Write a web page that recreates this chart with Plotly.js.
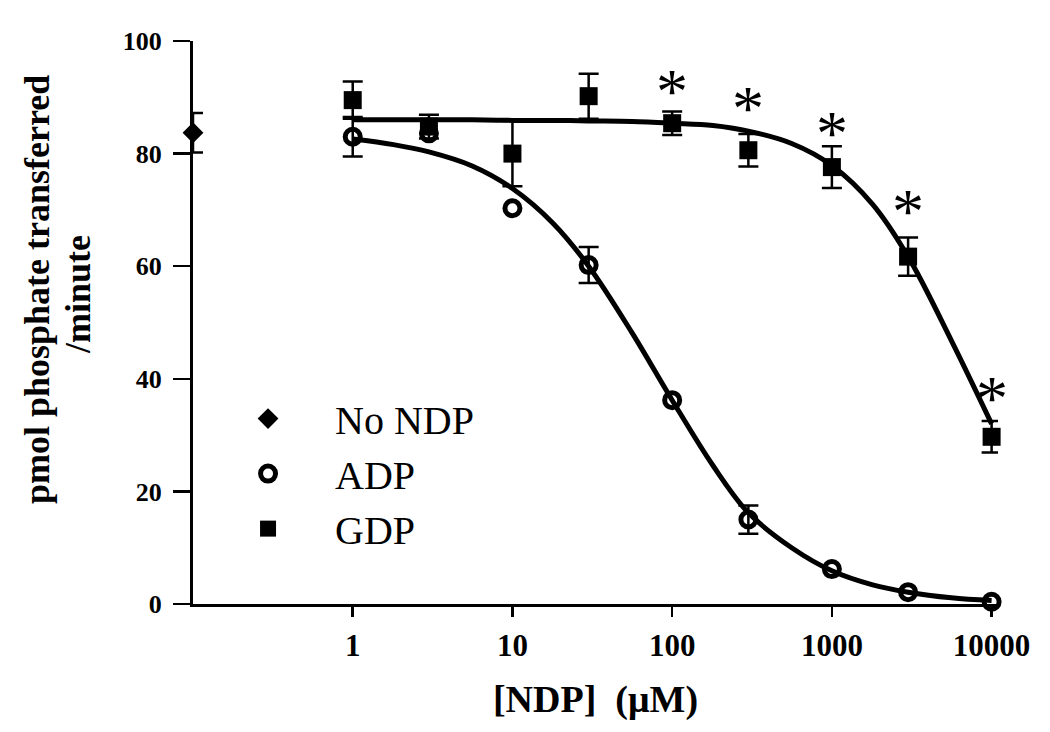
<!DOCTYPE html>
<html>
<head>
<meta charset="utf-8">
<script src="https://cdn.plot.ly/plotly-3.0.1.min.js"></script>
<style>html,body{margin:0;padding:0;background:#fff;}#chart{width:1050px;height:732px;}</style>
</head>
<body>
<div id="chart"></div>
<script>
// ---- data ----
var concentrations = [1, 3, 10, 30, 100, 300, 1000, 3000, 10000];   // [NDP] (µM)

var noNdpX = [0.1];
var noNdpY = [83.7];
var noNdpErr = [3.5];

var adpY   = [83.0, 83.6, 70.3, 60.2, 36.2, 15.0, 6.2, 2.1, 0.4];
var adpErr = [3.5, NaN, NaN, 3.2, NaN, 2.5, NaN, NaN, NaN];

var gdpY   = [89.5, 84.8, 80.0, 90.2, 85.4, 80.6, 77.6, 61.7, 29.7];
var gdpErr = [3.3, 2.1, 5.8, 4.0, 2.1, 2.9, 3.7, 3.4, 2.8];

// fitted curves as drawn in the figure (read at quarter-decade steps)
var curveX    = [1, 1.8, 3, 5.6, 10, 18, 30, 56, 100, 180, 300, 560, 1000, 1800, 3000, 5600, 10000];
var adpCurveY = [82.6, 81.6, 80.3, 77.8, 73.8, 67.6, 60.0, 48.2, 36.2, 24.6, 16.2, 10.0, 5.9, 3.4, 2.1, 1.1, 0.6];
var gdpCurveY = [86.0, 86.0, 86.0, 86.0, 85.9, 85.9, 85.8, 85.7, 85.4, 85.0, 84.0, 81.8, 77.9, 71.0, 61.7, 46.8, 32.0];

// significance markers (asterisks) above GDP points: centre of each asterisk
var starX = [100, 300, 1000, 3000, 10000];
var starY = [92.2, 89.2, 84.8, 71.0, 37.7];

var xTickVals = [1, 10, 100, 1000, 10000];
var xTickText = ['1', '10', '100', '1000', '10000'];
var yTickVals = [0, 20, 40, 60, 80, 100];

var legendNames = ['No NDP', 'ADP', 'GDP'];
var xTitle = '[NDP]  (\u03bcM)';
var yTitleLines = ['pmol phosphate transferred', '/minute'];

// ---- chart ----
var SERIF = '"Liberation Serif", "Times New Roman", serif';
var K = '#000000';

var traces = [
  { x: curveX, y: adpCurveY, mode: 'lines', line: {color: K, width: 5, shape: 'spline'},
    showlegend: false, hoverinfo: 'skip', cliponaxis: false },
  { x: curveX, y: gdpCurveY, mode: 'lines', line: {color: K, width: 5, shape: 'spline'},
    showlegend: false, hoverinfo: 'skip', cliponaxis: false },
  { name: legendNames[0], x: noNdpX, y: noNdpY, mode: 'markers', cliponaxis: false,
    marker: {symbol: 'diamond', size: 16, color: K},
    error_y: {type: 'data', array: noNdpErr, visible: true, color: K, thickness: 2.5, width: 10} },
  { name: legendNames[1], x: concentrations, y: adpY, mode: 'markers', cliponaxis: false,
    marker: {symbol: 'circle-open', size: 15, color: K, line: {color: K, width: 5}},
    error_y: {type: 'data', array: adpErr, visible: true, color: K, thickness: 2.5, width: 10} },
  { name: legendNames[2], x: concentrations, y: gdpY, mode: 'markers', cliponaxis: false,
    marker: {symbol: 'square', size: 18, color: K},
    error_y: {type: 'data', array: gdpErr, visible: true, color: K, thickness: 2.5, width: 10} }
];

var annotations = [
  {text: '<b>' + yTitleLines[0] + '</b>', textangle: -90, xref: 'paper', yref: 'paper',
   x: (37 - 193) / 805, y: (604 - 290) / 563, xanchor: 'center', yanchor: 'middle',
   showarrow: false, font: {family: SERIF, size: 36, color: K}},
  {text: '<b>' + yTitleLines[1] + '</b>', textangle: -90, xref: 'paper', yref: 'paper',
   x: (78 - 193) / 805, y: (604 - 295) / 563, xanchor: 'center', yanchor: 'middle',
   showarrow: false, font: {family: SERIF, size: 36, color: K}}
];
// asterisks: placed on the data axes (log axis uses log10 coordinates)
starX.forEach(function (sx, i) {
  annotations.push({text: '*', xref: 'x', yref: 'y', x: Math.log10(sx), y: starY[i],
    xanchor: 'center', yanchor: 'middle', yshift: -7, showarrow: false,
    font: {family: SERIF, size: 64, color: K}});
});

var layout = {
  width: 1050, height: 732,
  margin: {l: 193, r: 52, t: 41, b: 128},
  paper_bgcolor: '#fff', plot_bgcolor: '#fff',
  font: {family: SERIF, color: K},
  showlegend: true,
  legend: {x: 0.01, xanchor: 'left', y: 0.387, yanchor: 'top', itemwidth: 124,
           font: {family: SERIF, size: 40, color: K}, bgcolor: 'rgba(0,0,0,0)',
           traceorder: 'normal', itemclick: false},
  xaxis: {
    type: 'log', range: [-1, 4.04],
    tickvals: xTickVals, ticktext: xTickText,
    ticks: 'outside', ticklen: 10, tickwidth: 2.5, tickcolor: K,
    showline: true, linewidth: 3, linecolor: K, showgrid: false, zeroline: false,
    tickfont: {family: SERIF, size: 31, color: K, weight: 'bold'},
    ticklabelstandoff: 2,
    title: {text: '<b>' + xTitle + '</b>', font: {family: SERIF, size: 38, color: K}, standoff: 24}
  },
  yaxis: {
    range: [0, 100], tickvals: yTickVals,
    ticks: 'outside', ticklen: 17, tickwidth: 2.5, tickcolor: K,
    showline: true, linewidth: 3, linecolor: K, showgrid: false, zeroline: false,
    tickfont: {family: SERIF, size: 26, color: K, weight: 'bold'},
    ticklabelstandoff: 6
  },
  annotations: annotations
};

Plotly.newPlot('chart', traces, layout, {staticPlot: true, displayModeBar: false});
</script>
</body>
</html>
